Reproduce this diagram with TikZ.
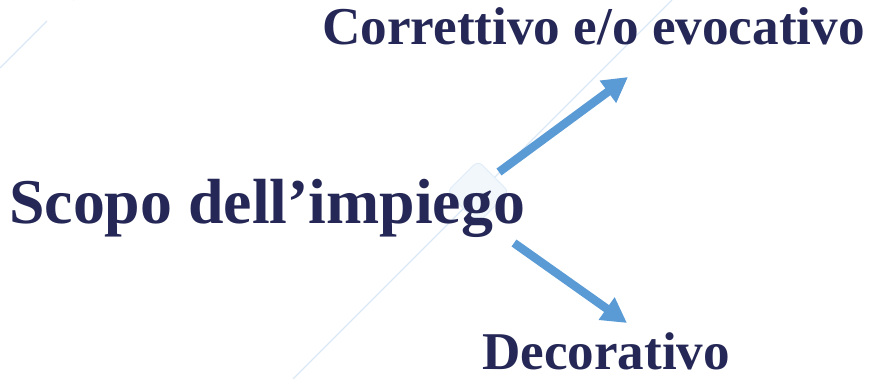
\documentclass[tikz,border=0pt]{standalone}
\usepackage{fontspec}
\setmainfont{Liberation Serif}
\usetikzlibrary{arrows.meta}
\definecolor{navy}{RGB}{37,40,86}
\definecolor{arrowblue}{RGB}{91,155,213}
\definecolor{faint}{RGB}{218,232,246}
\tikzset{
  label text/.style={inner sep=0pt, anchor=base west, text=navy, font=\bfseries},
  blue arrow/.style={draw=arrowblue, line width=8.5pt, -{Triangle[length=25pt,width=26pt]}},
  bg line/.style={draw=faint, line width=1.3pt}
}
\begin{document}
\begin{tikzpicture}[x=1pt,y=-1pt]
\useasboundingbox (0,0) rectangle (870,379);
% faint background decoration
\draw[bg line] (672,0) -- (293,379);
\draw[bg line] (0,68) -- (47,21);
\draw[bg line, draw=faint!70] (73,0) -- (75,-1);
\draw[draw=faint!80, fill=faint!35, line width=1pt, rounded corners=6pt, rotate around={45:(478,192)}]
  (456,170) rectangle (500,214);
% texts
\node[label text, font=\bfseries\fontsize{63.8}{68}\selectfont] (main) at (9,224) {Scopo dell’impiego};
\node[label text, font=\bfseries\fontsize{53.2}{57}\selectfont] (top) at (322,45) {Correttivo e/o evocativo};
\node[label text, font=\bfseries\fontsize{53.1}{57}\selectfont] (bottom) at (482,369) {Decorativo};
% arrows
\coordinate (s1) at (499,172);
\coordinate (t1) at (628,77);
\coordinate (s2) at (514,243);
\coordinate (t2) at (627,323);
\draw[blue arrow] (s1) -- (t1);
\draw[blue arrow] (s2) -- (t2);
\end{tikzpicture}
\end{document}
